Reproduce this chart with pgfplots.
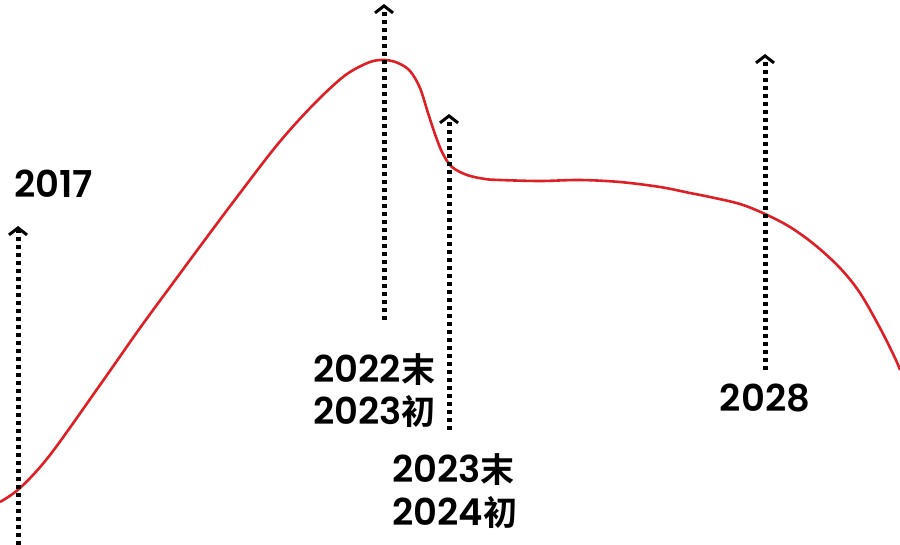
\documentclass[border=0pt]{standalone}
\usepackage{pgfplots}
\pgfplotsset{compat=1.18}
\usetikzlibrary{arrows.meta}
\usepackage{fontspec}
\setmainfont{Poppins}[BoldFont={Poppins SemiBold}]
\newfontfamily\cjk{Noto Sans CJK SC}[BoldFont={* Bold}, Scale=0.92]
\definecolor{curvered}{RGB}{222,32,38}
\tikzset{
    lbl/.style={font=\fontsize{18.5}{22}\selectfont\bfseries, inner sep=0pt},
    arr/.style={black, line width=2.5pt, dash pattern=on 2pt off 2pt,
        -{Straight Barb[length=3.5pt,width=9pt,line width=1.5pt]}},
}

\pgfplotstableread{
x y
0 502
20 488
50 455
100 385
140 328
173 283
207 237
240 193
273 150
297 122
323 95
347 74
370 62
385 60
398 63
410 71
420 88
428 113
436 137
443 154
452 167
467 175
485 179
500 180
540 181
580 180
620 182
660 187
690 193
710 197
740 204
765 214
790 227
815 245
840 268
860 293
880 328
895 358
900 370
}\curvedata

\begin{document}
\begin{tikzpicture}
\begin{axis}[
    width=450pt, height=272.5pt,
    scale only axis,
    xmin=0, xmax=900, ymin=0, ymax=545,
    y dir=reverse,
    axis lines=none,
    clip=true,
]
\path (rel axis cs:0,0) rectangle (rel axis cs:1,1);
\addplot[curvered, line width=1.3pt, smooth, tension=0.55] table {\curvedata};
% dotted arrows
\addplot[arr] coordinates {(18,545) (18,226)};
\addplot[arr] coordinates {(384,320) (384,4)};
\addplot[arr] coordinates {(449,430) (449,114)};
\addplot[arr] coordinates {(765,370) (765,54)};
% labels
\node[lbl, anchor=west] at (axis cs:14,184) {2017};
\node[lbl, anchor=west] at (axis cs:313,370) {2022{\cjk 末}};
\node[lbl, anchor=west] at (axis cs:313,411) {2023{\cjk 初}};
\node[lbl, anchor=west] at (axis cs:392,470) {2023{\cjk 末}};
\node[lbl, anchor=west] at (axis cs:392,512) {2024{\cjk 初}};
\node[lbl] at (axis cs:765,398) {2028};
\end{axis}
\end{tikzpicture}
\end{document}
